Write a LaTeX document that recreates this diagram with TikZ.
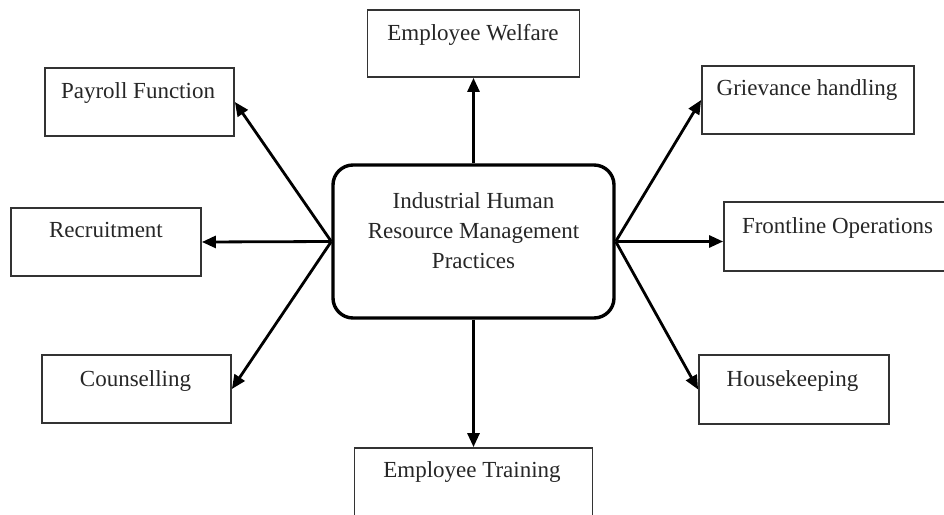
\documentclass[tikz,border=0pt]{standalone}
\usepackage{fontspec}
\setmainfont{Liberation Serif}
\usetikzlibrary{arrows.meta}
\begin{document}
\begin{tikzpicture}[x=1pt,y=-1pt,
  box/.style={draw=black!80, line width=1.8pt, inner sep=0pt, minimum height=68pt},
  hub/.style={draw=black, line width=3.4pt, rounded corners=20pt, inner sep=0pt,
              minimum width=281pt, minimum height=153pt},
  lbl/.style={anchor=base, inner sep=0pt, text=black!85, font=\fontsize{23}{28}\selectfont},
  arr/.style={line width=2.8pt, draw=black, -{Triangle[length=14pt,width=12pt]}}
]
\useasboundingbox (0,0) rectangle (944,514);
\clip (0,0) rectangle (944,514);

% hub
\node[hub] (c) at (473.5,241.5) {};
\node[lbl] (c1) at (473.5,208) {Industrial Human};
\node[lbl] (c2) at (473.5,238) {Resource Management};
\node[lbl] (c3) at (473.5,268) {Practices};

% boxes
\node[box, minimum width=212pt, minimum height=67pt] (wel) at (473.5,43.5) {};
\node[lbl] (welt) at (473,40) {Employee Welfare};

\node[box, minimum width=189pt] (pay) at (139.5,102) {};
\node[lbl] (payt) at (138,98) {Payroll Function};

\node[box, minimum width=190pt] (rec) at (106,242) {};
\node[lbl] (rect) at (106,237) {Recruitment};

\node[box, minimum width=189pt] (cns) at (136.5,389) {};
\node[lbl] (cnst) at (135.5,386) {Counselling};

\node[box, minimum width=238pt] (trn) at (473.5,482) {};
\node[lbl] (trnt) at (472,477) {Employee Training};

\node[box, minimum width=212pt] (gri) at (808,100) {};
\node[lbl] (grit) at (807,95) {Grievance handling};

\node[box, minimum width=226pt, minimum height=69pt] (fro) at (837,236.5) {};
\node[lbl] (frot) at (837.5,233) {Frontline Operations};

\node[box, minimum width=190pt, minimum height=69pt] (hou) at (794,389.5) {};
\node[lbl] (hout) at (792.5,386) {Housekeeping};

% arrows
\draw[arr] (c.north) -- (wel.south);
\draw[arr] (c.south) -- (trn.north);
\draw[arr] (c.west) -- (pay.east);
\draw[arr] (c.west) -- (rec.east);
\draw[arr] (c.west) -- (cns.east);
\draw[arr] (c.east) -- (gri.west);
\draw[arr] (c.east) -- (c.east -| fro.west);
\draw[arr] (c.east) -- (hou.west);
\end{tikzpicture}
\end{document}
